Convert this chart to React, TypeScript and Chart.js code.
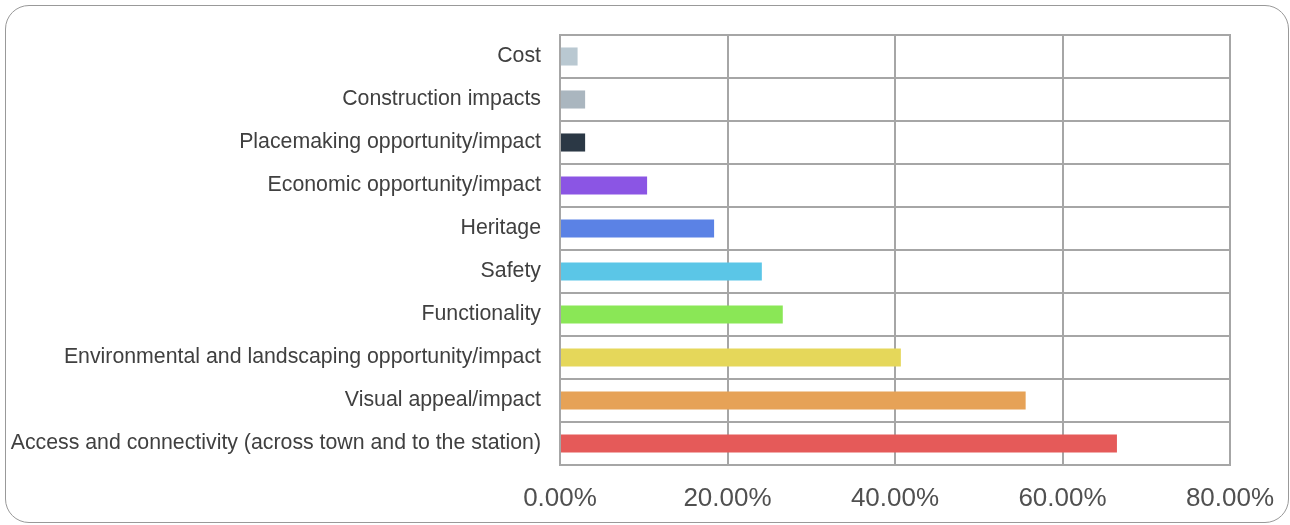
import React, { useEffect, useRef } from "react";
import { Chart, registerables } from "chart.js";

Chart.register(...registerables);

const categories = [
  "Cost",
  "Construction impacts",
  "Placemaking opportunity/impact",
  "Economic opportunity/impact",
  "Heritage",
  "Safety",
  "Functionality",
  "Environmental and landscaping opportunity/impact",
  "Visual appeal/impact",
  "Access and connectivity (across town and to the station)",
];

const values = [2.1, 3.0, 3.0, 10.4, 18.4, 24.1, 26.6, 40.7, 55.6, 66.5];

const barColors = [
  "#b9c8d1",
  "#aab6bf",
  "#2b3845",
  "#8b55e4",
  "#5b82e5",
  "#5bc6e7",
  "#8ae756",
  "#e5d75a",
  "#e6a257",
  "#e55a59",
];

const xTicks = [0, 20, 40, 60, 80];

export default function App() {
  const ref = useRef<HTMLCanvasElement | null>(null);

  useEffect(() => {
    if (!ref.current) return;
    const chart = new Chart(ref.current, {
      type: "bar",
      data: {
        labels: categories,
        datasets: [
          {
            data: values,
            backgroundColor: barColors,
            borderWidth: 0,
            barPercentage: 0.42,
            categoryPercentage: 1,
          },
        ],
      },
      options: {
        indexAxis: "y",
        animation: false,
        responsive: false,
        maintainAspectRatio: false,
        layout: { padding: { top: 35, right: 0, bottom: 0, left: 0 } },
        plugins: {
          legend: { display: false },
          tooltip: { enabled: false },
        },
        scales: {
          x: {
            min: 0,
            max: 80,
            afterBuildTicks: (scale: any) => {
              scale.ticks = xTicks.map((v) => ({ value: v }));
            },
            afterFit: (scale: any) => {
              scale.height = 60;
              scale.paddingRight = 60;
            },
            ticks: {
              padding: 18,
              color: "#505050",
              font: { family: "'Liberation Sans', Arial, sans-serif", size: 26 },
              callback: (v: any) => Number(v).toFixed(2) + "%",
              maxRotation: 0,
              autoSkip: false,
            },
            grid: {
              color: "#a6a6a6",
              lineWidth: 2,
              drawTicks: false,
            },
            border: { display: true, color: "#a6a6a6", width: 2 },
          },
          y: {
            afterFit: (scale: any) => {
              scale.width = 560;
            },
            ticks: {
              padding: 19,
              color: "#404040",
              font: { family: "'Liberation Sans', Arial, sans-serif", size: 21.3 },
              autoSkip: false,
            },
            grid: {
              color: "#a6a6a6",
              lineWidth: 2,
              drawTicks: false,
              offset: true,
            },
            border: { display: true, color: "#a6a6a6", width: 2 },
          },
        },
      },
      plugins: [
        {
          id: "frame",
          afterDraw: (c: any) => {
            const { ctx, chartArea } = c;
            ctx.save();
            ctx.strokeStyle = "#a6a6a6";
            ctx.lineWidth = 2;
            ctx.beginPath();
            ctx.moveTo(chartArea.left, chartArea.top);
            ctx.lineTo(chartArea.right, chartArea.top);
            ctx.lineTo(chartArea.right, chartArea.bottom);
            ctx.stroke();
            ctx.restore();
          },
        },
      ],
    });
    return () => chart.destroy();
  }, []);

  return (
    <div style={{ position: "absolute", left: 0, top: 0, width: 1290, height: 525 }}>
      <div
        style={{
          position: "absolute",
          left: 5,
          top: 5,
          width: 1284,
          height: 518,
          border: "1.5px solid #999",
          borderRadius: 24,
          boxSizing: "border-box",
        }}
      />
      <canvas ref={ref} width={1290} height={525} style={{ position: "absolute", left: 0, top: 0 }} />
    </div>
  );
}
